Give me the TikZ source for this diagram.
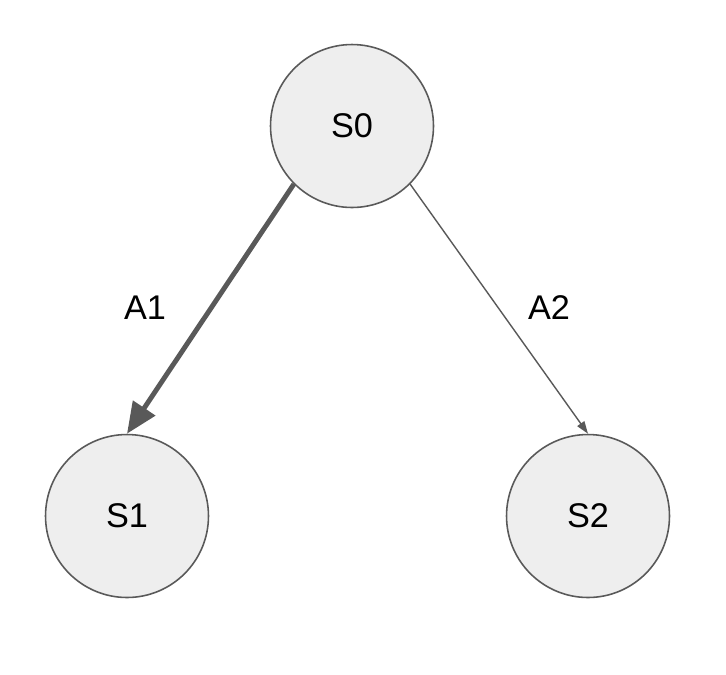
\documentclass[tikz,border=0pt]{standalone}
\usepackage{fontspec}
\setmainfont{Liberation Sans}
\usetikzlibrary{arrows.meta, positioning}
\definecolor{stateedge}{HTML}{595959}
\definecolor{statefill}{HTML}{EEEEEE}

\tikzset{
  state/.style={circle, draw=stateedge, fill=statefill, line width=0.9pt,
    minimum size=3.26cm, inner sep=0pt, font=\fontsize{19.5}{23}\selectfont},
  lbl/.style={font=\fontsize{19.5}{23}\selectfont},
  heavy/.style={draw=stateedge, line width=2.8pt,
    -{Triangle[length=0.62cm, width=0.52cm]}},
  light/.style={draw=stateedge, line width=0.8pt,
    -{Triangle[length=0.25cm, width=0.17cm]}}
}

\begin{document}
\begin{tikzpicture}[x=0.02cm, y=-0.02cm]
  \useasboundingbox (0,0) rectangle (726,674);

  % states
  \node[state] (s0) at (352,126) {S0};
  \node[state] (s1) at (127,516) {S1};
  \node[state] (s2) at (588,516) {S2};

  % actions
  \draw[heavy] (s0.south west) -- (s1.north);
  \draw[light] (s0.south east) -- (s2.north);

  \node[lbl] (a1) at (145,308) {A1};
  \node[lbl] (a2) at (549,308) {A2};

\end{tikzpicture}
\end{document}
